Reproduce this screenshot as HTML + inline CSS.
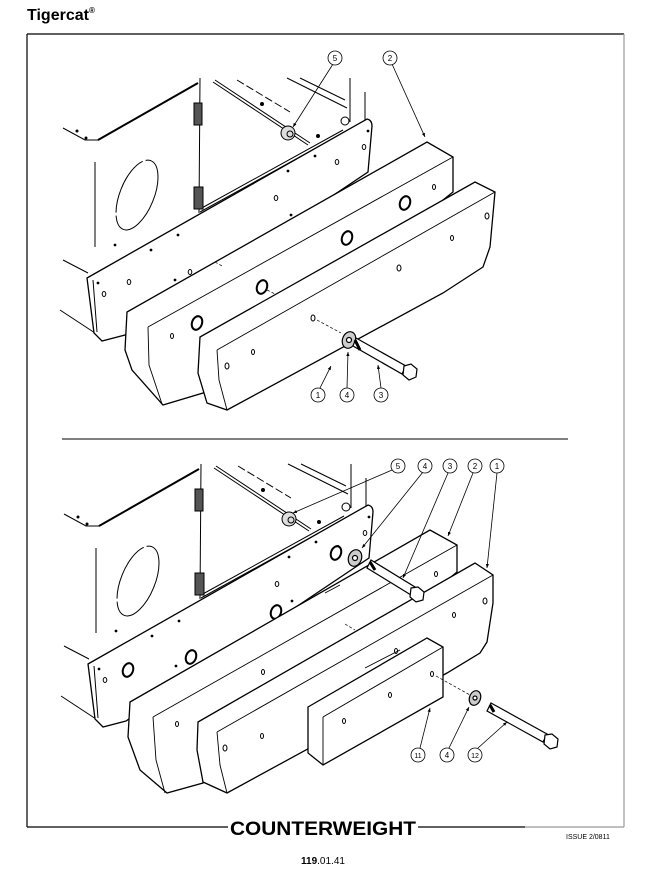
<!DOCTYPE html>
<html><head><style>
html,body{margin:0;padding:0;background:#fff;}
svg{display:block;}
text{font-family:"Liberation Sans",sans-serif;}
</style></head><body>
<svg width="648" height="877" viewBox="0 0 648 877" xmlns="http://www.w3.org/2000/svg">
<defs>
<g id="body" fill="none" stroke="#000" stroke-width="1">
  <polyline points="63,128 85,140 98,140 198,83" />
  <line x1="98" y1="140" x2="198" y2="83" stroke-width="2"/>
  <line x1="200" y1="78" x2="199" y2="213"/>
  <line x1="215" y1="80" x2="310" y2="143"/>
  <line x1="213" y1="82" x2="308" y2="145"/>
  <line x1="237" y1="80" x2="290" y2="112" stroke-dasharray="8,3"/>
  <line x1="287" y1="78" x2="347" y2="108"/>
  <line x1="300" y1="78" x2="345" y2="100"/>
  <line x1="350" y1="78" x2="350" y2="122"/>
  <line x1="365" y1="92" x2="365" y2="120"/>
  <line x1="200" y1="212" x2="345" y2="132"/>
  <line x1="200" y1="209" x2="343" y2="130"/>
  <line x1="95" y1="162" x2="95" y2="247"/>
  <line x1="63" y1="260" x2="88" y2="273"/>
  <line x1="60" y1="310" x2="95" y2="333"/>
  <ellipse cx="137" cy="195" rx="17" ry="37" transform="rotate(22 137 195)" stroke-dasharray="60,3"/>
  <rect x="194" y="103" width="8" height="22" fill="#555"/>
  <rect x="194" y="187" width="9" height="22" fill="#555"/>
  <circle cx="77" cy="131" r="1" fill="#000"/><circle cx="86" cy="138" r="1" fill="#000"/>
  <ellipse cx="288" cy="133" rx="7" ry="7" fill="#ddd"/><circle cx="290" cy="134" r="3"/>
  <ellipse cx="345" cy="121" rx="4" ry="4"/>
  <circle cx="318" cy="136" r="1.5" fill="#000"/><circle cx="262" cy="104" r="1.5" fill="#000"/>
  <path d="M87,278 L367,119 Q372,120 372,126 L368,172 L125,335 L102,341 L94,333 Z" fill="#fff" stroke-width="1.3"/>
  <line x1="93" y1="280" x2="97" y2="332"/>
  <circle cx="98" cy="283" r="0.9" fill="#000"/><circle cx="368" cy="131" r="0.9" fill="#000"/>
  <circle cx="115" cy="245" r="0.9" fill="#000"/>
  <ellipse cx="104" cy="294" rx="1.8" ry="2.5"/><ellipse cx="129" cy="282" rx="1.8" ry="2.5"/>
  <ellipse cx="364" cy="147" rx="1.8" ry="2.5"/><ellipse cx="337" cy="162" rx="1.8" ry="2.5"/>
  <ellipse cx="276" cy="198" rx="1.8" ry="2.5"/><ellipse cx="190" cy="272" rx="1.8" ry="2.5"/>
  <circle cx="315" cy="156" r="0.9" fill="#000"/><circle cx="288" cy="171" r="0.9" fill="#000"/>
  <circle cx="178" cy="235" r="0.9" fill="#000"/><circle cx="151" cy="250" r="0.9" fill="#000"/>
  <circle cx="175" cy="280" r="0.9" fill="#000"/><circle cx="291" cy="215" r="0.9" fill="#000"/>
</g>
<marker id="ar" markerWidth="6" markerHeight="6" refX="5" refY="3" orient="auto"><path d="M0,1 L5,3 L0,5 Z" fill="#000"/></marker>
</defs>

<text x="27" y="20" font-size="16" font-weight="bold">Tigercat<tspan font-size="8" dy="-7">®</tspan></text>

<line x1="27" y1="34" x2="624" y2="34" stroke="#000" stroke-width="1.2"/>
<line x1="27" y1="34" x2="27" y2="827" stroke="#000" stroke-width="1.2"/>
<line x1="624" y1="34" x2="624" y2="827" stroke="#999" stroke-width="1.2"/>
<line x1="27" y1="827" x2="525" y2="827" stroke="#000" stroke-width="1.2"/>
<line x1="525" y1="827" x2="624" y2="827" stroke="#999" stroke-width="1.2"/>
<line x1="62" y1="439" x2="568" y2="439" stroke="#000" stroke-width="1"/>

<use href="#body"/>
<g fill="#fff" stroke="#000" stroke-width="1.3">
  <path d="M127,312 L427,142 L453,157 L453,192 L203,393 L163,405 L132,370 L125,350 Z"/>
  <path d="M148,327 L453,157 M148,327 L149,365 L162,404" fill="none" stroke-width="0.9"/>
  <ellipse cx="405" cy="203" rx="5" ry="7" transform="rotate(20 405 203)" stroke-width="2"/>
  <ellipse cx="347" cy="238" rx="5" ry="7" transform="rotate(20 347 238)" stroke-width="2"/>
  <ellipse cx="262" cy="287" rx="5" ry="7" transform="rotate(20 262 287)" stroke-width="2"/>
  <ellipse cx="197" cy="323" rx="5" ry="7" transform="rotate(20 197 323)" stroke-width="2"/>
  <ellipse cx="434" cy="187" rx="1.5" ry="2.5" stroke-width="1"/><ellipse cx="172" cy="336" rx="1.5" ry="2.5" stroke-width="1"/>
  <path d="M200,337 L475,182 L495,192 L490,247 L483,267 L443,293 L227,410 L207,403 L198,373 Z"/>
  <path d="M217,350 L495,192 M217,350 L219,380 L227,410" fill="none" stroke-width="0.9"/>
  <g stroke-width="1">
  <ellipse cx="487" cy="216" rx="2" ry="3"/><ellipse cx="452" cy="238" rx="1.5" ry="2.5"/>
  <ellipse cx="399" cy="268" rx="2" ry="3"/><ellipse cx="253" cy="352" rx="1.5" ry="2.5"/>
  <ellipse cx="227" cy="366" rx="2" ry="3"/><ellipse cx="313" cy="318" rx="2" ry="3"/>
  </g>
</g>
<line x1="215" y1="262" x2="222" y2="266" stroke="#000" stroke-dasharray="3,2" stroke-width="0.7"/>
<line x1="267" y1="290" x2="275" y2="294" stroke="#000" stroke-dasharray="3,2" stroke-width="0.7"/>
<line x1="317" y1="320" x2="341" y2="333" stroke="#000" stroke-dasharray="3,2" stroke-width="0.7"/>
<g stroke="#000" fill="#fff" stroke-width="1.2">
  <ellipse cx="349" cy="340" rx="6.5" ry="8.5" transform="rotate(20 349 340)" fill="#ccc"/>
  <circle cx="349" cy="340" r="2.5" fill="#fff"/>
  <path d="M356,338 L406,366 L402,374 L353,346 Z"/>
  <path d="M355,340 L360,350" stroke-width="3"/>
  <polygon points="404,366 411,364 417,369 416,377 409,380 403,375"/>
</g>

<use href="#body" transform="translate(1,386)"/>
<g fill="#fff" stroke="#000" stroke-width="1.3">
  <ellipse cx="336" cy="553" rx="5" ry="7" transform="rotate(20 336 553)" stroke-width="2"/>
  <ellipse cx="276" cy="612" rx="5" ry="7" transform="rotate(20 276 612)" stroke-width="2"/>
  <ellipse cx="191" cy="657" rx="5" ry="7" transform="rotate(20 191 657)" stroke-width="2"/>
  <ellipse cx="128" cy="670" rx="5" ry="7" transform="rotate(20 128 670)" stroke-width="2"/>
  <path d="M130,702 L430,530 L457,545 L457,572 L203,783 L167,793 L140,770 L128,737 Z"/>
  <path d="M153,717 L457,545 M153,717 L156,760 L165,793" fill="none" stroke-width="0.9"/>
  <g stroke-width="1">
  <ellipse cx="436" cy="574" rx="1.5" ry="2.5"/><ellipse cx="177" cy="724" rx="1.5" ry="2.5"/>
  </g>
  <path d="M198,722 L475,563 L493,575 L493,603 L487,642 L480,653 L447,673 L227,793 L203,782 L197,750 Z"/>
  <path d="M217,732 L493,575 M217,732 L220,765 L227,793" fill="none" stroke-width="0.9"/>
  <g stroke-width="1">
  <ellipse cx="485" cy="601" rx="2" ry="3"/><ellipse cx="454" cy="615" rx="1.5" ry="2.5"/>
  <ellipse cx="262" cy="736" rx="1.5" ry="2.5"/><ellipse cx="225" cy="748" rx="2" ry="3"/>
  <ellipse cx="263" cy="672" rx="1.5" ry="2.5"/><ellipse cx="396" cy="651" rx="1.5" ry="2.5"/>
  </g>
  <path d="M308,707 L427,638 L443,647 L443,697 L323,765 L308,753 Z"/>
  <path d="M323,717 L443,647 M323,717 L323,765" fill="none" stroke-width="0.9"/>
  <g stroke-width="1">
  <ellipse cx="432" cy="674" rx="1.5" ry="2.5"/><ellipse cx="390" cy="695" rx="1.5" ry="2.5"/>
  <ellipse cx="344" cy="721" rx="1.5" ry="2.5"/>
  </g>
</g>
<line x1="365" y1="668" x2="400" y2="650" stroke="#000" stroke-width="0.9"/>
<line x1="340" y1="585" x2="325" y2="593" stroke="#000" stroke-width="0.9"/>
<line x1="345" y1="624" x2="355" y2="630" stroke="#000" stroke-dasharray="3,2" stroke-width="0.7"/>
<line x1="436" y1="676" x2="470" y2="695" stroke="#000" stroke-dasharray="3,2" stroke-width="0.7"/>
<g stroke="#000" fill="#fff" stroke-width="1.2">
  <ellipse cx="355" cy="558" rx="6.5" ry="8.5" transform="rotate(20 355 558)" fill="#ccc"/>
  <circle cx="355" cy="558" r="2.5" fill="#fff"/>
  <path d="M371,560 L415,587 L411,595 L367,568 Z"/>
  <path d="M370,562 L375,570" stroke-width="3"/>
  <polygon points="411,588 418,587 424,592 423,600 416,602 410,597"/>
  <ellipse cx="475" cy="698" rx="5.5" ry="7.5" transform="rotate(20 475 698)" fill="#ccc"/>
  <circle cx="475" cy="698" r="2" fill="#fff"/>
  <path d="M491,703 L547,734 L543,742 L487,711 Z"/>
  <path d="M490,705 L494,712" stroke-width="3"/>
  <polygon points="545,735 552,734 558,739 557,747 550,749 544,744"/>
</g>

<g stroke="#000" stroke-width="0.8" fill="none" marker-end="url(#ar)">
  <line x1="333" y1="64" x2="293" y2="127"/>
  <line x1="392" y1="64" x2="425" y2="137"/>
  <line x1="320" y1="388" x2="331" y2="366"/>
  <line x1="347" y1="388" x2="348" y2="352"/>
  <line x1="381" y1="388" x2="378" y2="365"/>
  <line x1="392" y1="470" x2="293" y2="513"/>
  <line x1="423" y1="472" x2="362" y2="548"/>
  <line x1="448" y1="473" x2="403" y2="578"/>
  <line x1="473" y1="473" x2="448" y2="536"/>
  <line x1="497" y1="473" x2="487" y2="568"/>
  <line x1="420" y1="748" x2="430" y2="708"/>
  <line x1="449" y1="748" x2="469" y2="707"/>
  <line x1="478" y1="748" x2="507" y2="722"/>
</g>
<g fill="#fff" stroke="#000" stroke-width="0.8">
  <circle cx="335" cy="58" r="7"/><circle cx="390" cy="58" r="7"/>
  <circle cx="318" cy="395" r="7"/><circle cx="347" cy="395" r="7"/><circle cx="381" cy="395" r="7"/>
  <circle cx="398" cy="466" r="7"/><circle cx="425" cy="466" r="7"/><circle cx="450" cy="466" r="7"/>
  <circle cx="475" cy="466" r="7"/><circle cx="497" cy="466" r="7"/>
  <circle cx="418" cy="755" r="7"/><circle cx="447" cy="755" r="7"/><circle cx="475" cy="755" r="7"/>
</g>
<g font-size="8" text-anchor="middle">
  <text x="335" y="61">5</text><text x="390" y="61">2</text>
  <text x="318" y="398">1</text><text x="347" y="398">4</text><text x="381" y="398">3</text>
  <text x="398" y="469">5</text><text x="425" y="469">4</text><text x="450" y="469">3</text>
  <text x="475" y="469">2</text><text x="497" y="469">1</text>
  <text x="418" y="758" font-size="7">11</text><text x="447" y="758">4</text><text x="475" y="758" font-size="7">12</text>
</g>

<rect x="228" y="816" width="190" height="22" fill="#fff"/>
<text x="323" y="835" font-size="19" font-weight="bold" text-anchor="middle" textLength="186" lengthAdjust="spacingAndGlyphs">COUNTERWEIGHT</text>
<text x="566" y="839" font-size="7">ISSUE 2/0811</text>
<text x="323" y="864" font-size="10" text-anchor="middle"><tspan font-weight="bold">119</tspan>.01.41</text>
</svg>
</body></html>
